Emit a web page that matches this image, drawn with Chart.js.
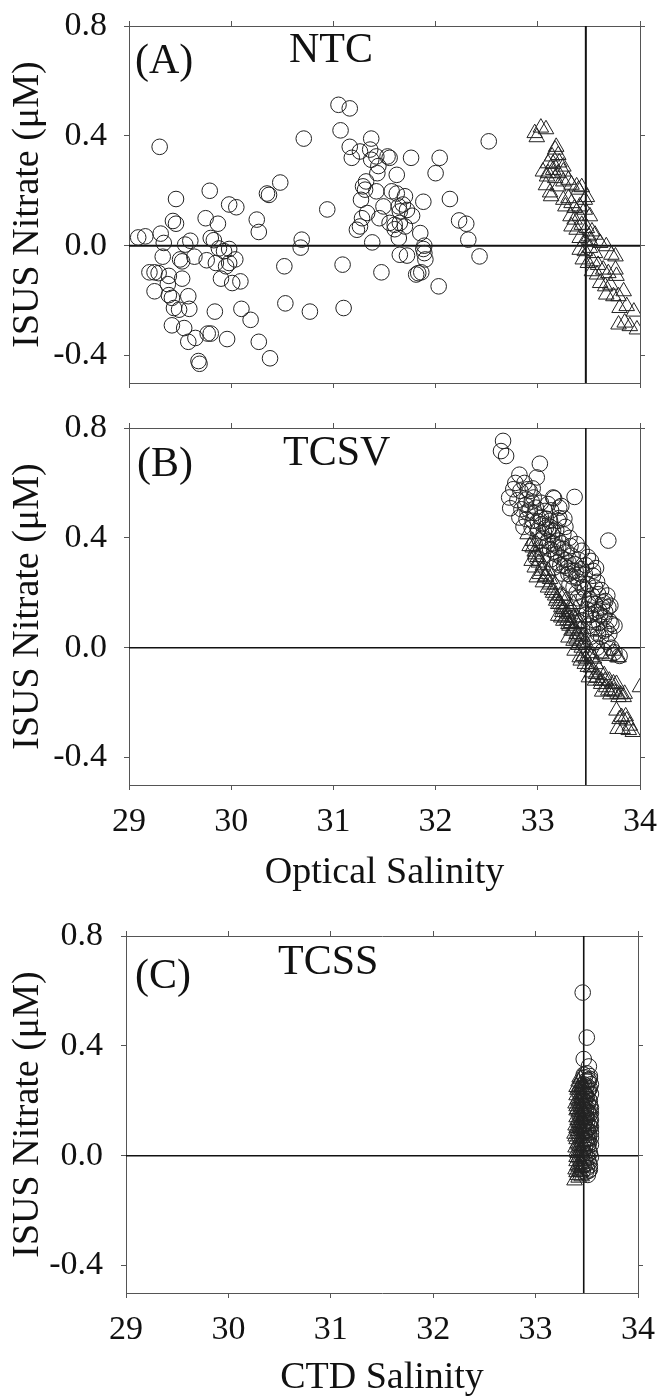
<!DOCTYPE html>
<html>
<head>
<meta charset="utf-8">
<title>ISUS nitrate vs salinity</title>
<script src="https://cdn.jsdelivr.net/npm/chart.js@4.4.1/dist/chart.umd.min.js"></script>
<style>
  html, body { margin: 0; padding: 0; background: #fff; overflow: hidden; }
  .panel { position: absolute; left: 0; width: 658px; }
  canvas { display: block; }
</style>
</head>
<body>
<div class="panel" style="top:0;height:400px"><canvas id="chart-a" width="658" height="400"></canvas></div>
<div class="panel" style="top:400px;height:500px"><canvas id="chart-b" width="658" height="500"></canvas></div>
<div class="panel" style="top:900px;height:510px"><canvas id="chart-c" width="658" height="510"></canvas></div>
<script>
/* Nitrate (ISUS) against salinity, three stations */

// ── Axes ──────────────────────────────────────────────────────────────────────
const salinityRange = [29, 34];
const salinityTicks = [29, 30, 31, 32, 33, 34];
const nitrateRange = [-0.5, 0.8];
const nitrateTicks = [-0.4, 0.0, 0.4, 0.8];
const refSalinity = 33.47;
const refNitrate = 0;

// ── NTC (panel A) ─────────────────────────────────────────────────────────────
const ntcCircles = [
  [29.30,0.36],[30.48,0.23],[30.35,0.19],[30.37,0.185],[29.79,0.20],[29.46,0.17],[29.98,0.15],[30.05,0.14],
  [30.25,0.095],[30.27,0.05],[29.75,0.10],[29.87,0.08],[29.43,0.09],[29.46,0.08],[29.09,0.03],[29.16,0.034],
  [29.31,0.044],[29.34,0.01],[29.55,0.004],[29.60,0.018],[29.80,0.028],[29.83,0.02],[29.33,-0.04],[29.50,-0.05],
  [29.52,-0.057],[29.64,-0.04],[29.76,-0.053],[29.88,-0.01],[29.93,-0.02],[29.98,-0.012],[29.85,-0.063],[29.95,-0.075],
  [29.98,-0.063],[30.04,-0.05],[29.20,-0.097],[29.25,-0.097],[29.29,-0.10],[29.39,-0.11],[29.52,-0.12],[29.90,-0.12],
  [30.01,-0.136],[30.09,-0.13],[29.25,-0.166],[29.38,-0.14],[29.39,-0.18],[29.42,-0.19],[29.58,-0.184],[29.44,-0.227],
  [29.49,-0.233],[29.59,-0.23],[29.84,-0.24],[30.10,-0.23],[30.19,-0.27],[29.42,-0.29],[29.54,-0.30],[29.58,-0.35],
  [29.65,-0.336],[29.77,-0.32],[29.80,-0.32],[29.96,-0.34],[30.27,-0.35],[30.38,-0.41],[29.68,-0.42],[29.69,-0.43],
  [30.52,-0.075],[30.53,-0.21],[30.77,-0.24],[30.69,0.022],[30.68,-0.007],[30.94,0.132],[30.71,0.39],
  [31.05,0.513],[31.16,0.50],[31.07,0.42],[31.37,0.39],[31.16,0.36],[31.26,0.343],[31.36,0.35],[31.18,0.32],
  [31.42,0.325],[31.37,0.313],[31.55,0.32],[31.76,0.32],[32.04,0.32],[32.00,0.264],[31.44,0.29],[31.43,0.264],
  [31.62,0.258],[31.32,0.234],[31.29,0.216],[31.31,0.204],[31.27,0.167],[31.42,0.198],[31.57,0.198],[31.62,0.19],
  [31.70,0.18],[31.88,0.16],[32.14,0.17],[31.28,0.10],[31.26,0.07],[31.23,0.058],[31.33,0.119],[31.45,0.10],
  [31.49,0.143],[31.64,0.143],[31.65,0.125],[31.55,0.083],[31.60,0.076],[31.65,0.083],[31.70,0.07],[31.77,0.109],
  [31.85,0.046],[31.64,0.028],[31.38,0.012],[32.23,0.092],[32.30,0.08],[32.32,0.022],[32.43,-0.039],[31.88,-0.012],
  [31.90,-0.05],[31.65,-0.033],[31.72,-0.036],[31.81,-0.105],[31.86,-0.097],[32.03,-0.148],[31.47,-0.097],[31.09,-0.069],
  [31.10,-0.227],[32.52,0.38],[31.53,0.325],[31.83,-0.10],[31.89,0.00],[31.89,-0.027],[31.68,0.15],[31.72,0.13],
  [31.60,0.06]
];
const ntcTriangles = [
  [32.97,0.41],[33.03,0.43],[33.08,0.424],[32.99,0.395],[33.17,0.35],[33.14,0.325],[33.20,0.33],[33.10,0.30],
  [33.15,0.298],[33.21,0.303],[33.25,0.288],[33.05,0.27],[33.10,0.264],[33.15,0.276],[33.20,0.264],[33.25,0.27],
  [33.09,0.252],[33.17,0.246],[33.25,0.234],[33.30,0.24],[33.20,0.216],[33.12,0.194],[33.33,0.222],[33.40,0.204],
  [33.43,0.213],[33.48,0.177],[33.25,0.167],[33.30,0.173],[33.33,0.155],[33.27,0.143],[33.36,0.137],[33.41,0.143],
  [33.46,0.131],[33.51,0.107],[33.32,0.107],[33.36,0.095],[33.41,0.109],[33.33,0.07],[33.38,0.058],[33.43,0.076],
  [33.48,0.064],[33.53,0.052],[33.56,0.04],[33.50,0.034],[33.41,0.028],[33.46,0.016],[33.51,0.02],[33.61,0.01],
  [33.67,-0.002],[33.72,-0.033],[33.76,-0.039],[33.41,-0.015],[33.46,-0.02],[33.51,-0.008],[33.56,-0.027],[33.44,-0.05],
  [33.49,-0.063],[33.54,-0.057],[33.59,-0.07],[33.53,-0.093],[33.58,-0.105],[33.64,-0.087],[33.69,-0.10],[33.76,-0.087],
  [33.77,-0.11],[33.61,-0.136],[33.66,-0.148],[33.71,-0.142],[33.67,-0.178],[33.74,-0.184],[33.79,-0.184],[33.84,-0.166],
  [33.80,-0.227],[33.87,-0.22],[33.94,-0.24],[33.79,-0.287],[33.85,-0.28],[33.90,-0.293],[33.97,-0.305],[33.13,0.18],
  [33.08,0.22],[33.18,0.36],[33.38,0.216],[33.46,0.167]
];

// ── TCSV (panel B) ────────────────────────────────────────────────────────────
const tcsvCircles = [
  [32.66,0.753],[32.64,0.716],[32.69,0.698],[33.02,0.67],[32.82,0.63],[32.76,0.577],[32.83,0.571],[32.90,0.577],
  [32.95,0.58],[33.36,0.549],[32.72,0.547],[32.80,0.537],[32.89,0.54],[32.94,0.532],[32.73,0.508],[32.84,0.504],
  [32.90,0.492],[33.16,0.544],[33.10,0.523],[33.21,0.51],[33.03,0.528],[32.98,0.51],[33.07,0.498],[33.21,0.472],
  [33.20,0.462],[32.82,0.474],[32.89,0.468],[32.95,0.462],[33.03,0.474],[32.86,0.44],[32.94,0.437],[33.00,0.425],
  [33.08,0.437],[33.15,0.425],[33.25,0.413],[33.31,0.40],[33.38,0.377],[33.69,0.39],[32.97,0.377],[33.03,0.365],
  [33.12,0.359],[33.20,0.365],[32.98,0.328],[33.05,0.335],[33.13,0.322],[33.23,0.328],[33.33,0.335],[33.43,0.353],
  [33.16,0.292],[33.26,0.298],[33.36,0.304],[33.43,0.286],[33.52,0.316],[33.30,0.268],[33.38,0.256],[33.46,0.268],
  [33.54,0.262],[33.49,0.232],[33.56,0.219],[33.56,0.159],[33.64,0.165],[33.60,0.135],[33.69,0.147],[33.65,0.11],
  [33.70,0.098],[33.59,0.195],[33.51,0.177],[33.75,-0.017],[33.80,-0.03],[33.65,0.062],[33.59,0.05],[33.66,0.17],
  [33.71,0.153],[33.72,0.086],[33.67,0.068],[33.54,0.28],[32.92,0.57],[32.96,0.547],[33.15,0.547],[33.23,0.516],
  [33.12,0.462],[33.05,0.40],[33.10,0.39],[33.15,0.38],[33.18,0.34],[33.28,0.35],[33.22,0.30],[33.30,0.31],
  [33.34,0.28],[33.40,0.24],[33.44,0.22],[33.38,0.20],[33.45,0.18],[33.48,0.14],[33.52,0.12],[33.50,0.08],
  [33.55,0.10],[33.58,0.07],[33.62,0.04],[33.56,0.02],[33.10,0.43],[33.25,0.36],[33.32,0.37],[33.40,0.32],
  [33.47,0.30],[33.58,0.24],[33.62,0.21],[33.61,0.12],[33.68,0.02],[33.72,0.00],
  [32.88,0.52],[32.92,0.50],[32.97,0.49],[33.00,0.46],[33.04,0.45],[33.08,0.47],[33.12,0.44],[33.06,0.42],
  [33.14,0.41],[33.18,0.43],[33.02,0.39],[33.09,0.37],[33.16,0.35],[33.20,0.39],[33.23,0.38],[33.27,0.32],
  [33.19,0.31],[33.24,0.27],[33.29,0.29],[33.33,0.26],[33.37,0.28],[33.31,0.23],[33.35,0.22],[33.41,0.27],
  [33.39,0.18],[33.42,0.15],[33.46,0.21],[33.47,0.12],[33.50,0.16],[33.53,0.19],[33.54,0.07],[33.57,0.13],
  [33.60,0.09],[33.63,0.15],[33.66,0.13],[33.44,0.10],[33.52,0.04],[33.58,0.00],[33.64,-0.01],[33.70,0.05],
  [33.75,0.08],[33.68,0.19],[33.57,0.29],[33.49,0.33],[33.27,0.44],[33.13,0.50],[33.26,0.47],[32.99,0.62],
  [32.87,0.60],[32.78,0.60]
];
const tcsvTriangles = [
  [32.90,0.413],[32.95,0.389],[32.95,0.365],[32.98,0.34],[32.94,0.316],[32.97,0.292],[33.02,0.268],[33.07,0.256],
  [33.05,0.238],[33.10,0.219],[33.15,0.20],[33.20,0.159],[33.25,0.141],[33.30,0.122],[33.23,0.11],[33.30,0.086],
  [33.35,0.062],[33.40,0.044],[33.45,0.019],[33.36,-0.011],[33.41,-0.035],[33.46,-0.059],[33.52,-0.072],[33.57,-0.096],
  [33.62,-0.12],[33.67,-0.144],[33.72,-0.156],[33.78,-0.168],[33.85,-0.168],[34.00,-0.144],[33.77,-0.229],[33.82,-0.253],
  [33.87,-0.265],[33.90,-0.284],[33.78,-0.296],[33.83,-0.296],[33.93,-0.307],[33.70,-0.03],[33.78,-0.035],[33.52,-0.035],
  [33.57,-0.06],[33.62,-0.024],[32.99,0.256],[33.18,0.171],[33.23,0.147],[33.28,0.128],[33.20,0.116],[33.25,0.098],
  [33.33,0.062],[33.38,0.05],[33.30,0.037],[33.35,0.025],[33.42,-0.047],[33.50,-0.108],[33.56,-0.12],[33.62,-0.132],
  [33.69,-0.156],[33.77,-0.132],[33.84,-0.18],[33.38,0.11],[33.41,0.086],[33.35,0.159],[33.32,0.135],[33.25,0.189],
  [33.00,0.33],[33.05,0.30],[33.10,0.28],[33.12,0.25],[33.17,0.23],[33.22,0.19],[33.27,0.17],[33.32,0.15],
  [33.35,0.11],[33.38,0.09],[33.42,0.07],[33.44,0.04],[33.48,0.01],[33.50,-0.02],[33.55,-0.04],[33.60,-0.08],
  [33.65,-0.10],[33.70,-0.12],[33.74,-0.13],[33.79,-0.18],[33.74,-0.011],[33.79,-0.035],
  [32.92,0.37],[32.97,0.35],[33.01,0.31],[33.04,0.28],[33.08,0.26],[33.12,0.23],[33.14,0.21],[33.17,0.19],
  [33.19,0.18],[33.22,0.16],[33.24,0.13],[33.27,0.11],[33.29,0.10],[33.31,0.08],[33.33,0.09],[33.36,0.07],
  [33.38,0.03],[33.40,0.01],[33.43,0.00],[33.45,-0.03],[33.47,-0.04],[33.49,-0.07],[33.53,-0.09],[33.58,-0.11],
  [33.63,-0.16],[33.66,-0.12],[33.71,-0.17],[33.75,-0.16],[33.81,-0.17],[33.86,-0.25],[33.80,-0.26],[33.89,-0.30]
];

// ── TCSS (panel C) ────────────────────────────────────────────────────────────
const tcssCircles = [
  [33.46,0.594],[33.50,0.43],[33.47,0.352],[33.52,0.325],[33.50,0.30],[33.53,0.29],[33.48,0.285],[33.51,0.27],
  [33.54,0.26],[33.49,0.25],[33.52,0.24],[33.47,0.23],[33.54,0.225],[33.50,0.215],[33.48,0.20],[33.53,0.20],
  [33.51,0.19],[33.46,0.18],[33.54,0.175],[33.49,0.165],[33.52,0.155],[33.47,0.145],[33.50,0.14],[33.54,0.13],
  [33.48,0.12],[33.52,0.11],[33.46,0.10],[33.50,0.095],[33.54,0.085],[33.48,0.075],[33.52,0.065],[33.47,0.055],
  [33.50,0.045],[33.54,0.04],[33.48,0.03],[33.52,0.02],[33.46,0.01],[33.50,0.00],[33.54,-0.005],[33.48,-0.015],
  [33.52,-0.025],[33.47,-0.035],[33.50,-0.045],[33.53,-0.05],[33.49,-0.06],[33.51,-0.07],[33.53,0.28],[33.49,0.22],
  [33.51,0.16],[33.53,0.105],[33.49,0.09],[33.51,0.06],[33.53,0.01],[33.49,0.135],[33.47,0.26],[33.53,0.18],
  [33.51,0.235],[33.47,0.09],[33.53,0.15],[33.51,0.035],
  [33.47,0.295],[33.52,0.275],[33.50,0.255],[33.46,0.245],[33.53,0.245],[33.48,0.225],[33.52,0.205],[33.46,0.205],
  [33.50,0.175],[33.54,0.155],[33.47,0.165],[33.49,0.145],[33.53,0.125],[33.47,0.115],[33.51,0.095],[33.54,0.065],
  [33.49,0.055],[33.46,0.04],[33.52,0.045],[33.48,0.01],[33.51,-0.01],[33.53,-0.035],[33.49,-0.03],[33.46,-0.055],
  [33.52,-0.055],[33.50,0.12],[33.50,0.065],[33.48,0.18],[33.52,0.085],[33.54,0.105]
];
const tcssTriangles = [
  [33.38,-0.09],[33.44,0.28],[33.42,0.27],[33.45,0.25],[33.41,0.24],[33.43,0.23],[33.40,0.22],[33.45,0.21],
  [33.42,0.20],[33.39,0.19],[33.44,0.18],[33.41,0.17],[33.46,0.16],[33.43,0.15],[33.40,0.14],[33.45,0.13],
  [33.42,0.12],[33.39,0.11],[33.44,0.10],[33.41,0.09],[33.46,0.08],[33.43,0.07],[33.40,0.06],[33.45,0.05],
  [33.42,0.04],[33.39,0.03],[33.44,0.02],[33.41,0.01],[33.46,0.00],[33.43,-0.01],[33.40,-0.02],[33.45,-0.03],
  [33.42,-0.04],[33.39,-0.05],[33.44,-0.06],[33.41,-0.07],[33.46,0.26],[33.47,0.19],[33.47,0.115],[33.47,0.035],
  [33.43,0.255],[33.40,0.165],[33.38,0.08],[33.40,-0.005],[33.43,0.105],[33.44,-0.045],
  [33.43,0.285],[33.45,0.265],[33.40,0.25],[33.42,0.245],[33.44,0.225],[33.46,0.225],[33.41,0.205],[33.43,0.19],
  [33.45,0.175],[33.40,0.18],[33.42,0.16],[33.44,0.145],[33.46,0.135],[33.41,0.13],[33.43,0.12],[33.45,0.095],
  [33.40,0.10],[33.42,0.08],[33.44,0.065],[33.39,0.07],[33.41,0.045],[33.43,0.035],[33.45,0.015],[33.40,0.015],
  [33.42,-0.005],[33.44,-0.02],[33.46,-0.04],[33.41,-0.035],[33.43,-0.055],[33.45,-0.075],[33.40,-0.06],[33.42,-0.08]
];

// ── Style ─────────────────────────────────────────────────────────────────────
const SERIF = '"Liberation Serif", "Times New Roman", serif';
const INK = '#111';
const FRAME = '#555';
const MARK = '#222';

// ── Panel labels: "(A)" and station name inside the plot ─────────────────────
const panelLabels = {
  id: 'panelLabels',
  afterDraw(chart, args, o) {
    const { ctx, chartArea } = chart;
    ctx.save();
    ctx.font = `42px ${SERIF}`;
    ctx.fillStyle = INK;
    ctx.textBaseline = 'middle';
    ctx.fillText(o.tag, chartArea.left + o.tagX, chartArea.top + o.tagY);
    ctx.fillText(o.site, chartArea.left + o.siteX, chartArea.top + o.siteY);
    ctx.restore();
  }
};

const toPoints = pairs => pairs.map(([x, y]) => ({ x, y }));

// fixed box sizes so every panel lines up; label overhang must not shrink the plot
function frameScale(axis, position, size) {
  const isX = axis === 'x';
  const ticks = isX ? salinityTicks : nitrateTicks;
  return {
    axis, position, type: 'linear',
    min: isX ? salinityRange[0] : nitrateRange[0],
    max: isX ? salinityRange[1] : nitrateRange[1],
    afterBuildTicks: s => { s.ticks = ticks.map(v => ({ value: v })); },
    ticks: { display: false },
    grid: { drawOnChartArea: false, drawTicks: true, tickLength: 5, color: FRAME, lineWidth: 1 },
    border: { display: true, color: FRAME, width: 1 },
    afterFit: s => {
      if (isX) s.height = size; else s.width = size;
      s.paddingTop = s.paddingBottom = s.paddingLeft = s.paddingRight = 0;
    }
  };
}

function makePanel(id, p) {
  const x = frameScale('x', 'bottom', p.bottomH);
  x.ticks = {
    display: !!p.xTitle, font: { family: SERIF, size: 34 }, color: INK,
    padding: 12, maxRotation: 0, autoSkip: false, callback: v => String(v)
  };
  x.title = {
    display: !!p.xTitle, text: p.xTitle || '', color: INK,
    font: { family: SERIF, size: 38 }, padding: { top: 0, bottom: p.titlePad || 0 }
  };

  const y = frameScale('y', 'left', p.leftW);
  y.ticks = {
    display: true, font: { family: SERIF, size: 34 }, color: INK,
    padding: p.yPad, autoSkip: false, callback: v => v.toFixed(1)
  };
  y.title = {
    display: true, text: 'ISUS Nitrate (μM)', color: INK,
    font: { family: SERIF, size: 38 }, padding: { top: 5, bottom: 0 }
  };

  const marker = (data, style, r) => ({
    data: toPoints(data), pointStyle: style, pointRadius: r, pointHoverRadius: r,
    borderColor: MARK, backgroundColor: 'rgba(0,0,0,0)', pointBorderWidth: 1,
    xAxisID: 'x', yAxisID: 'y'
  });
  const refLine = pts => ({
    data: pts, showLine: true, pointRadius: 0, borderColor: INK,
    borderWidth: p.refWidth, xAxisID: 'x', yAxisID: 'y'
  });

  new Chart(document.getElementById(id), {
    type: 'scatter',
    data: {
      datasets: [
        marker(p.circles, 'circle', 7.8),
        marker(p.triangles, 'triangle', 9),
        refLine([{ x: salinityRange[0], y: refNitrate }, { x: salinityRange[1], y: refNitrate }]),
        refLine([{ x: refSalinity, y: nitrateRange[0] }, { x: refSalinity, y: nitrateRange[1] }])
      ]
    },
    options: {
      responsive: false,
      animation: false,
      devicePixelRatio: 1,
      layout: { padding: 0 },
      plugins: {
        legend: { display: false },
        tooltip: { enabled: false },
        panelLabels: p.labels
      },
      scales: {
        x,
        x2: frameScale('x', 'top', p.topH),
        y,
        y2: frameScale('y', 'right', p.rightW)
      }
    },
    plugins: [panelLabels]
  });
}

// ── Boot ──────────────────────────────────────────────────────────────────────
makePanel('chart-a', {
  circles: ntcCircles, triangles: ntcTriangles,
  topH: 26, bottomH: 17, leftW: 129, rightW: 18, yPad: 17, refWidth: 2,
  labels: { tag: '(A)', site: 'NTC', tagX: 6, tagY: 36, siteX: 160, siteY: 25 }
});
makePanel('chart-b', {
  circles: tcsvCircles, triangles: tcsvTriangles,
  topH: 28, bottomH: 115, leftW: 129, rightW: 18, yPad: 17, refWidth: 1.6,
  xTitle: 'Optical Salinity', titlePad: 4,
  labels: { tag: '(B)', site: 'TCSV', tagX: 8, tagY: 37, siteX: 154, siteY: 26 }
});
makePanel('chart-c', {
  circles: tcssCircles, triangles: tcssTriangles,
  topH: 36, bottomH: 117, leftW: 126, rightW: 20, yPad: 18, refWidth: 1.6,
  xTitle: 'CTD Salinity', titlePad: 9,
  labels: { tag: '(C)', site: 'TCSS', tagX: 9, tagY: 41, siteX: 152, siteY: 27 }
});
</script>
</body>
</html>
